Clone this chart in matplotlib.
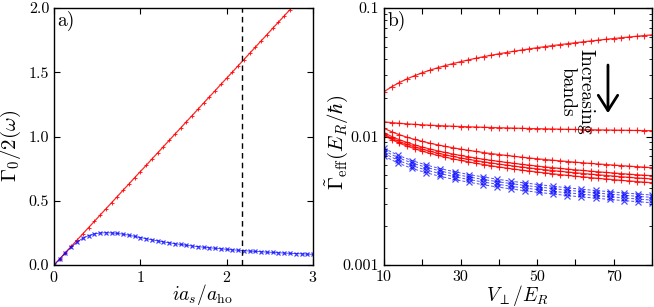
import matplotlib
matplotlib.use("Agg")
import matplotlib.pyplot as plt
from matplotlib.patches import FancyArrowPatch
from matplotlib.ticker import FixedLocator, FixedFormatter, LogLocator, NullFormatter

plt.rcParams['mathtext.fontset'] = 'cm'
plt.rcParams['font.family'] = 'serif'
plt.rcParams['font.serif'] = ['cmr10', 'DejaVu Serif']
plt.rcParams['axes.formatter.use_mathtext'] = True

# ---------------- Panel a data ----------------
a_x = [0.000, 0.067, 0.133, 0.200, 0.267, 0.333, 0.400, 0.467, 0.533, 0.600,
       0.667, 0.733, 0.800, 0.867, 0.933, 1.000, 1.067, 1.133, 1.200, 1.267,
       1.333, 1.400, 1.467, 1.533, 1.600, 1.667, 1.733, 1.800, 1.867, 1.933,
       2.000, 2.067, 2.133, 2.200, 2.267, 2.333, 2.400, 2.467, 2.533, 2.600,
       2.667, 2.733, 2.800, 2.867, 2.933, 3.000]
a_red = [0.000, 0.048, 0.097, 0.145, 0.194, 0.242, 0.291, 0.339, 0.388, 0.436,
         0.485, 0.533, 0.582, 0.630, 0.679, 0.727, 0.775, 0.824, 0.872, 0.921,
         0.969, 1.018, 1.066, 1.115, 1.163, 1.212, 1.260, 1.309, 1.357, 1.406,
         1.454, 1.502, 1.551, 1.599, 1.648, 1.696, 1.745, 1.793, 1.842, 1.890,
         1.939, 1.987, 2.036]
a_blue = [0.000, 0.048, 0.096, 0.140, 0.178, 0.208, 0.229, 0.242, 0.249, 0.251,
          0.250, 0.246, 0.240, 0.232, 0.223, 0.214, 0.205, 0.196, 0.188, 0.180,
          0.173, 0.166, 0.160, 0.154, 0.148, 0.143, 0.138, 0.134, 0.130, 0.126,
          0.122, 0.118, 0.115, 0.112, 0.108, 0.106, 0.103, 0.100, 0.098, 0.095,
          0.093, 0.091, 0.089, 0.087, 0.085, 0.083]
a_vline = 2.18
a_xticks = [0, 1, 2, 3]
a_yticks = [0.0, 0.5, 1.0, 1.5, 2.0]
a_yticklabels = ['0.0', '0.5', '1.0', '1.5', '2.0']

# ---------------- Panel b data ----------------
b_v_red = [10, 12, 14, 16, 18, 20, 22, 24, 26, 28, 30, 32, 34, 36, 38, 40, 42, 44,
           46, 48, 50, 52, 54, 56, 58, 60, 62, 64, 66, 68, 70, 72, 74, 76, 78, 80]
b_red1 = [0.02230, 0.02438, 0.02630, 0.02808, 0.02974, 0.03132, 0.03282, 0.03425, 0.03562,
          0.03693, 0.03820, 0.03943, 0.04062, 0.04177, 0.04290, 0.04399, 0.04505, 0.04609,
          0.04711, 0.04810, 0.04906, 0.05002, 0.05095, 0.05187, 0.05277, 0.05366, 0.05452,
          0.05538, 0.05622, 0.05705, 0.05786, 0.05867, 0.05946, 0.06024, 0.06101, 0.06178]
b_red2 = [0.01300, 0.01282, 0.01267, 0.01254, 0.01243, 0.01233, 0.01224, 0.01216, 0.01209,
          0.01202, 0.01196, 0.01190, 0.01185, 0.01179, 0.01175, 0.01170, 0.01166, 0.01162,
          0.01158, 0.01154, 0.01150, 0.01147, 0.01144, 0.01140, 0.01137, 0.01134, 0.01132,
          0.01129, 0.01126, 0.01124, 0.01121, 0.01119, 0.01117, 0.01114, 0.01112, 0.01110]
b_red3 = [0.01158, 0.01089, 0.01033, 0.00987, 0.00949, 0.00916, 0.00886, 0.00861, 0.00838,
          0.00817, 0.00798, 0.00781, 0.00765, 0.00750, 0.00736, 0.00724, 0.00712, 0.00701,
          0.00690, 0.00680, 0.00671, 0.00662, 0.00654, 0.00646, 0.00638, 0.00631, 0.00624,
          0.00617, 0.00611, 0.00605, 0.00599, 0.00593, 0.00588, 0.00582, 0.00577, 0.00572]
b_red4 = [0.01070, 0.01000, 0.00944, 0.00899, 0.00860, 0.00827, 0.00799, 0.00773, 0.00751,
          0.00730, 0.00712, 0.00695, 0.00680, 0.00665, 0.00652, 0.00640, 0.00628, 0.00618,
          0.00607, 0.00598, 0.00589, 0.00580, 0.00572, 0.00565, 0.00557, 0.00550, 0.00544,
          0.00537, 0.00531, 0.00525, 0.00520, 0.00514, 0.00509, 0.00504, 0.00499, 0.00495]
b_red5 = [0.01040, 0.00969, 0.00914, 0.00868, 0.00829, 0.00796, 0.00768, 0.00742, 0.00720,
          0.00700, 0.00681, 0.00665, 0.00649, 0.00635, 0.00622, 0.00610, 0.00599, 0.00588,
          0.00578, 0.00569, 0.00560, 0.00551, 0.00543, 0.00536, 0.00529, 0.00522, 0.00515,
          0.00509, 0.00503, 0.00497, 0.00492, 0.00486, 0.00481, 0.00476, 0.00472, 0.00467]
b_red6 = [0.01020, 0.00947, 0.00889, 0.00842, 0.00803, 0.00769, 0.00739, 0.00714, 0.00691,
          0.00670, 0.00652, 0.00635, 0.00619, 0.00605, 0.00592, 0.00579, 0.00568, 0.00557,
          0.00547, 0.00538, 0.00529, 0.00521, 0.00513, 0.00505, 0.00498, 0.00491, 0.00485,
          0.00478, 0.00472, 0.00467, 0.00461, 0.00456, 0.00451, 0.00446, 0.00441, 0.00437]

b_v_blue = [10.00, 13.68, 17.37, 21.05, 24.74, 28.42, 32.11, 35.79, 39.47, 43.16,
            46.84, 50.53, 54.21, 57.89, 61.58, 65.26, 68.95, 72.63, 76.32, 80.00]
b_blue1 = [0.00810, 0.00714, 0.00648, 0.00600, 0.00562, 0.00532, 0.00506, 0.00485, 0.00466, 0.00449,
           0.00435, 0.00422, 0.00410, 0.00399, 0.00389, 0.00380, 0.00372, 0.00364, 0.00357, 0.00350]
b_blue2 = [0.00776, 0.00684, 0.00621, 0.00575, 0.00539, 0.00509, 0.00485, 0.00464, 0.00446, 0.00430,
           0.00416, 0.00404, 0.00393, 0.00382, 0.00373, 0.00364, 0.00356, 0.00349, 0.00342, 0.00336]
b_blue3 = [0.00740, 0.00652, 0.00592, 0.00548, 0.00514, 0.00486, 0.00463, 0.00443, 0.00426, 0.00410,
           0.00397, 0.00385, 0.00374, 0.00365, 0.00356, 0.00348, 0.00340, 0.00333, 0.00326, 0.00320]
b_blue4 = [0.00705, 0.00621, 0.00564, 0.00522, 0.00489, 0.00463, 0.00441, 0.00422, 0.00405, 0.00391,
           0.00378, 0.00367, 0.00357, 0.00347, 0.00339, 0.00331, 0.00324, 0.00317, 0.00311, 0.00305]
b_xticks = [10, 20, 30, 40, 50, 60, 70, 80]
b_xticklabels = ['10', '', '30', '', '50', '', '70', '']
b_yticks = [0.001, 0.01, 0.1]
b_yticklabels = ['0.001', '0.01', '0.1']

# ---------------- Figure ----------------
fig = plt.figure(figsize=(6.54, 3.07), dpi=100)
axa = fig.add_axes([54/654, 42/307, 259/654, 257/307])
axb = fig.add_axes([384/654, 42/307, 268/654, 257/307])

red = '#ff0000'
blue = '#0000ff'

axa.plot(a_x[:len(a_red)], a_red, color=red, lw=0.9, marker='+', ms=3, mew=0.7, alpha=0.85, clip_on=True)
axa.plot(a_x, a_blue, color=blue, lw=0.6, ls='-', marker='x', ms=3.5, mew=0.9, alpha=0.75, clip_on=True)
axa.axvline(a_vline, color='black', ls=(0, (4, 3)), lw=1.0)
axa.set_xlim(0, 3)
axa.set_ylim(0, 2)
axa.xaxis.set_major_locator(FixedLocator(a_xticks))
axa.yaxis.set_major_locator(FixedLocator(a_yticks))
axa.yaxis.set_major_formatter(FixedFormatter(a_yticklabels))
axa.set_xlabel(r'$ia_s/a_{\rm ho}$', fontsize=14)
axa.set_ylabel(r'$\Gamma_0/2(\omega)$', fontsize=15)
axa.xaxis.set_label_coords(0.573, -0.066)
axa.yaxis.set_label_coords(-0.118, 0.463)
axa.text(0.012, 0.99, 'a)', transform=axa.transAxes, ha='left', va='top', fontsize=14)

for ys in [b_red1, b_red2, b_red3, b_red4, b_red5, b_red6]:
    axb.plot(b_v_red, ys, color=red, lw=0.9, marker='+', ms=5, mew=0.8, alpha=0.85)
for ys in [b_blue1, b_blue2, b_blue3, b_blue4]:
    axb.plot(b_v_blue, ys, color=blue, lw=0.7, ls=(0, (3, 2)), marker='x', ms=4, mew=0.9, alpha=0.7)
axb.set_yscale('log')
axb.set_xlim(10, 80)
axb.set_ylim(0.001, 0.1)
axb.xaxis.set_major_locator(FixedLocator(b_xticks))
axb.xaxis.set_major_formatter(FixedFormatter(b_xticklabels))
axb.yaxis.set_major_locator(FixedLocator(b_yticks))
axb.yaxis.set_major_formatter(FixedFormatter(b_yticklabels))
axb.yaxis.set_minor_locator(LogLocator(base=10, subs=range(2, 10)))
axb.yaxis.set_minor_formatter(NullFormatter())
axb.set_xlabel(r'$V_\perp/E_R$', fontsize=14)
axb.set_ylabel(r'$\tilde{\Gamma}_{\rm eff}(E_R/\hbar)$', fontsize=15)
axb.xaxis.set_label_coords(0.5, -0.07)
axb.yaxis.set_label_coords(-0.127, 0.479)
axb.text(0.012, 0.99, 'b)', transform=axb.transAxes, ha='left', va='top', fontsize=14)
axb.text(60.4, 0.0222, 'Increasing\nbands', rotation=-90, ha='center', va='center',
         fontsize=14, linespacing=1.0)
arrow = FancyArrowPatch(posA=(68.5, 0.036), posB=(68.5, 0.0152),
                        arrowstyle='->,head_width=7,head_length=11', color='black',
                        lw=2, shrinkA=0, shrinkB=0, transform=axb.transData)
axb.add_patch(arrow)

for ax in (axa, axb):
    ax.tick_params(which='both', direction='in', top=True, right=True, labelsize=11.5)
    ax.tick_params(which='major', length=4, width=0.8, pad=3.5)
    ax.tick_params(which='minor', length=2.5, width=0.6)
    for s in ax.spines.values():
        s.set_linewidth(1.0)

fig.savefig('out.png', dpi=100)
